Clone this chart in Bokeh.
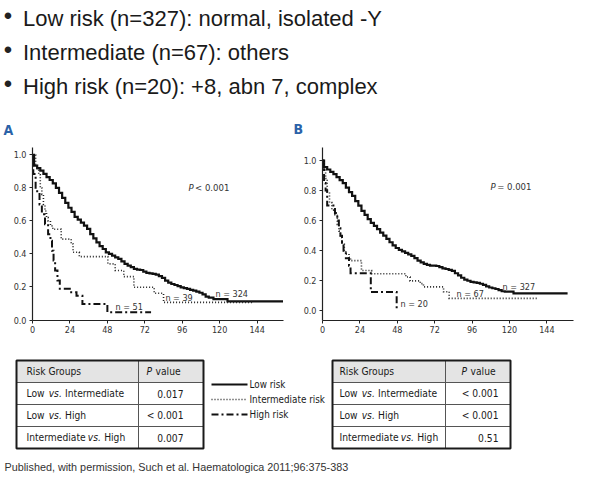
from math import pi
from bokeh.plotting import figure
from bokeh.layouts import column, row
from bokeh.models import Range1d, FixedTicker, NumeralTickFormatter, Label
from bokeh.core.properties import value
from bokeh.embed import file_html
from bokeh.resources import INLINE

# ------------------------------------------------------------------ data
bullet_lines = ["Low risk (n=327): normal, isolated -Y",
                "Intermediate (n=67): others",
                "High risk (n=20): +8, abn 7, complex"]
group_names = ["Low risk", "Intermediate risk", "High risk"]
x_ticks = [0, 24, 48, 72, 96, 120, 144]
y_ticks = [0.0, 0.2, 0.4, 0.6, 0.8, 1.0]

# Panel A (months, survival) step points
a_low_t = [0, 1, 3, 5, 7, 9, 11, 13, 15, 17, 19, 21, 23, 25, 27, 29, 31, 33, 35, 37, 39,
           41, 43, 45, 47, 49, 51, 53, 55, 57, 59, 61, 63, 65, 67, 69, 71, 73, 75, 77, 79,
           81, 83, 85, 87, 89, 91, 93, 95, 97, 99, 101, 103, 105, 107, 109, 111, 113, 116,
           125, 160.6]
a_low_s = [1.0, 0.935, 0.92, 0.905, 0.885, 0.866, 0.848, 0.828, 0.80, 0.77, 0.74, 0.71,
           0.68, 0.655, 0.625, 0.608, 0.59, 0.572, 0.552, 0.52, 0.495, 0.47, 0.448, 0.43,
           0.41, 0.40, 0.39, 0.38, 0.37, 0.355, 0.34, 0.33, 0.32, 0.31, 0.305, 0.303, 0.293,
           0.285, 0.283, 0.28, 0.275, 0.266, 0.255, 0.238, 0.226, 0.218, 0.212, 0.205, 0.198,
           0.193, 0.188, 0.183, 0.178, 0.172, 0.165, 0.155, 0.142, 0.135, 0.127, 0.113, 0.113]
a_int_t = [0, 2, 3, 4, 5, 6, 7, 8, 9, 10, 11.5, 13, 18.4, 24.8, 26, 30, 48.3, 53, 58.5, 65,
           78, 84, 142]
a_int_s = [1.0, 0.94, 0.91, 0.88, 0.80, 0.76, 0.70, 0.66, 0.62, 0.60, 0.57, 0.55, 0.49,
           0.46, 0.41, 0.384, 0.34, 0.30, 0.263, 0.198, 0.162, 0.107, 0.107]
a_high_t = [0, 0.5, 2, 3, 4.5, 6, 8, 10, 11.5, 12.5, 13.5, 14.5, 16, 17.5, 24.8, 28.2, 32,
            48, 76]
a_high_s = [1.0, 0.885, 0.79, 0.77, 0.70, 0.64, 0.58, 0.52, 0.48, 0.42, 0.36, 0.30, 0.24,
            0.19, 0.168, 0.147, 0.097, 0.047, 0.047]

# Panel B
b_low_t = [0, 1, 3, 5, 7, 9, 11, 13, 15, 17, 19, 21, 23, 25, 27, 29, 31, 33, 35, 37, 39,
           41, 43, 45, 47, 49, 51, 53, 55, 57, 59, 61, 63, 65, 67, 69, 73, 75, 77, 79, 81,
           83, 85, 87, 89, 91, 93, 95, 97, 99, 101, 103, 105, 107, 109, 111, 113, 115, 117,
           122.6, 157.3]
b_low_s = [1.0, 0.956, 0.94, 0.924, 0.91, 0.89, 0.87, 0.85, 0.82, 0.79, 0.765, 0.73, 0.70,
           0.665, 0.638, 0.61, 0.585, 0.565, 0.543, 0.52, 0.50, 0.478, 0.456, 0.435, 0.418,
           0.405, 0.395, 0.385, 0.375, 0.365, 0.35, 0.334, 0.322, 0.312, 0.305, 0.30, 0.298,
           0.29, 0.282, 0.278, 0.272, 0.265, 0.25, 0.236, 0.22, 0.207, 0.20, 0.192, 0.189,
           0.186, 0.18, 0.172, 0.163, 0.155, 0.15, 0.145, 0.138, 0.13, 0.127, 0.116, 0.116]
b_int_t = [0, 1, 2, 3, 4.5, 6, 8, 9.5, 10.5, 11.5, 12.5, 14, 15, 17, 18, 25, 31.5, 53.5,
           56.2, 62.7, 64.8, 77.7, 81.3, 138]
b_int_s = [1.0, 0.945, 0.88, 0.79, 0.72, 0.67, 0.64, 0.574, 0.53, 0.487, 0.443, 0.40, 0.378,
           0.356, 0.334, 0.268, 0.247, 0.225, 0.199, 0.181, 0.159, 0.127, 0.083, 0.083]
b_high_t = [0, 0.5, 1, 2, 3, 8, 9.5, 10.5, 11.5, 12.5, 13.5, 15, 17, 18, 31, 47.6]
b_high_s = [1.0, 0.95, 0.85, 0.80, 0.70, 0.65, 0.60, 0.55, 0.50, 0.45, 0.40, 0.35, 0.30,
            0.25, 0.125, 0.0]

a_n_labels = ["n = 324", "n = 39", "n = 51"]
b_n_labels = ["n = 327", "n = 67", "n = 20"]
a_p_rest = "< 0.001"
b_p_rest = "= 0.001"

comp_left = ["Low", "Low", "Intermediate"]
comp_right = ["Intermediate", "High", "High"]
a_pvalues = ["0.017", "< 0.001", "0.007"]
b_pvalues = ["< 0.001", "< 0.001", "0.51"]
citation = "Published, with permission, Such et al. Haematologica 2011;96:375-383"

# ------------------------------------------------------------------ style
SANS = "Liberation Sans"
NARROW = "DejaVu Sans Condensed, Liberation Sans"
BLUE = "#2a62a8"
STYLES = [dict(line_color="#111111", line_width=2.2, line_dash="solid"),
          dict(line_color="#222222", line_width=1.6, line_dash="1 2"),
          dict(line_color="#111111", line_width=2.0, line_dash="7 3 2 3")]

AW = {'L': 556, 'o': 556, 'w': 722, ' ': 278, 'v': 500, 's': 500, '.': 278, 'I': 278,
      'n': 556, 't': 278, 'e': 556, 'r': 333, 'm': 833, 'd': 556, 'i': 222, 'a': 556,
      'H': 722, 'g': 556, 'h': 556, 'P': 667}


def tw(s, size, k=1.03):
    return sum(AW.get(c, 556) for c in s) / 1000.0 * size * k


def bare(p):
    p.xgrid.visible = False
    p.ygrid.visible = False
    p.outline_line_color = None
    p.background_fill_color = "white"
    p.border_fill_color = "white"


W = 591
TOP_H = 140
KM_H = 205
# ------------------------------------------------------------------ top canvas
top = figure(width=W, height=TOP_H, x_range=Range1d(0, W), y_range=Range1d(TOP_H, 0),
             output_backend="svg", toolbar_location=None, min_border=0,
             x_axis_location=None, y_axis_location=None)
bare(top)
line_mid = [18, 52, 86]
top.text(x=[7.5] * 3, y=[m - 3 for m in line_mid], text=["\u2022"] * 3,
         text_font=value(SANS), text_font_size="24px", text_align="center",
         text_baseline="middle", text_color="#222222")
top.text(x=[22.5] * 3, y=line_mid, text=bullet_lines, text_font=value(SANS),
         text_font_size="22px", text_align="left", text_baseline="middle",
         text_color="#1a1a1a")
top.text(x=[3, 293], y=[129, 128], text=["A", "B"], text_font=value(NARROW),
         text_font_size="14px", text_font_style="bold", text_color=BLUE,
         text_align="left", text_baseline="middle")


# ------------------------------------------------------------------ KM panels
def km_panel(width, mbl, mbr, x_end, y0, y1, curves, n_labels, n_pos,
             p_rest, p_pos, months_y, surv_pos):
    p = figure(width=width, height=KM_H, x_range=Range1d(0, x_end), y_range=Range1d(y0, y1),
               output_backend="svg", toolbar_location=None,
               min_border_left=mbl, min_border_right=mbr, min_border_top=7,
               min_border_bottom=25)
    bare(p)
    for (t, s), st in zip(curves, STYLES):
        p.step(x=t, y=s, mode="after", line_join="miter", **st)
    p.xaxis.ticker = FixedTicker(ticks=x_ticks)
    p.yaxis.ticker = FixedTicker(ticks=y_ticks)
    p.yaxis.formatter = NumeralTickFormatter(format="0.0")
    for ax in (p.xaxis[0], p.yaxis[0]):
        ax.axis_line_color = "#222222"
        ax.axis_line_width = 1.2
        ax.major_tick_line_color = "#222222"
        ax.major_tick_out = 3
        ax.major_tick_in = 0
        ax.minor_tick_out = 0
        ax.minor_tick_in = 0
        ax.major_label_text_font = NARROW
        ax.major_label_text_font_size = "9px"
        ax.major_label_text_color = "#333333"
    p.xaxis.major_label_standoff = 2
    p.yaxis.major_label_standoff = 3
    p.text(x=[q[0] for q in n_pos], y=[q[1] for q in n_pos], text=n_labels,
           text_font=value(NARROW), text_font_size="9px", text_color="#333333",
           text_align="left", text_baseline="middle")
    p.text(x=[p_pos[0]], y=[p_pos[1]], text=["P"], text_font=value(NARROW),
           text_font_size="9.5px", text_font_style="italic", text_color="#333333",
           text_align="left", text_baseline="middle")
    p.text(x=[p_pos[0]], y=[p_pos[1]], text=[" " + p_rest], x_offset=tw("P", 9.5),
           text_font=value(NARROW), text_font_size="9.5px", text_color="#333333",
           text_align="left", text_baseline="middle")
    p.add_layout(Label(x=72, y=months_y, text="Months", text_font=NARROW,
                       text_font_size="7px", text_color="#333333", text_align="center",
                       text_baseline="middle"))
    p.add_layout(Label(x=surv_pos[0], y=surv_pos[1], text="Survival", angle=pi / 2,
                       text_font=NARROW, text_font_size="10px", text_color="#333333",
                       text_align="center", text_baseline="middle"))
    return p


figA = km_panel(290, 32, 7, 160.9, -0.003, 1.045,
                [(a_low_t, a_low_s), (a_int_t, a_int_s), (a_high_t, a_high_s)],
                a_n_labels, [(117.3, 0.155), (85.2, 0.136), (53.2, 0.078)],
                a_p_rest, (100, 0.803), -0.106, (-14, 0.45))
figB = km_panel(301, 32, 18, 161.1, -0.0645, 1.0865,
                [(b_low_t, b_low_s), (b_int_t, b_int_s), (b_high_t, b_high_s)],
                b_n_labels, [(115.6, 0.157), (86.0, 0.11), (50.1, 0.042)],
                b_p_rest, (107.9, 0.829), -0.178, (-14.1, 0.43))

# ------------------------------------------------------------------ bottom canvas
bot = figure(width=W, height=148, x_range=Range1d(0, W), y_range=Range1d(493, 345),
             output_backend="svg", toolbar_location=None, min_border=0,
             x_axis_location=None, y_axis_location=None)
bare(bot)

TFS = 10.2


def draw_table(p, x0, x1, xdiv, y0, row_h, pvals, pad_l, pad_r):
    nrows = len(pvals) + 1
    y1 = y0 + nrows * row_h
    p.quad(left=[x0], right=[x1], top=[y0], bottom=[y0 + row_h], fill_color="#e4e4e4",
           line_color=None)
    ys = [y0 + k * row_h for k in range(1, nrows)]
    p.segment(x0=[x0] * len(ys), x1=[x1] * len(ys), y0=ys, y1=ys, line_color="#555555",
              line_width=1)
    p.segment(x0=[xdiv], x1=[xdiv], y0=[y0], y1=[y1], line_color="#555555", line_width=1)
    p.quad(left=[x0], right=[x1], top=[y0], bottom=[y1], fill_color=None,
           line_color="#1a1a1a", line_width=2)
    cy = [y0 + (k + 0.5) * row_h for k in range(nrows)]
    common = dict(text_font=value(NARROW), text_font_size=f"{TFS}px", text_color="#1a1a1a",
                  text_baseline="middle")
    # header
    p.text(x=[x0 + pad_l], y=[cy[0]], text=["Risk Groups"], text_align="left", **common)
    xr = x1 - pad_r
    p.text(x=[xr], y=[cy[0]], text=[" value"], text_align="right", **common)
    p.text(x=[xr - tw(" value", TFS)], y=[cy[0]], text=["P"], text_align="right",
           text_font_style="italic", **common)
    # rows
    xl = x0 + pad_l
    p.text(x=[xl] * len(comp_left), y=cy[1:], text=comp_left, text_align="left", **common)
    p.text(x=[xl + tw(a + " ", TFS) for a in comp_left], y=cy[1:], text=["vs."] * len(comp_left),
           text_align="left", text_font_style="italic", **common)
    p.text(x=[xl + tw(a + " vs. ", TFS) for a in comp_left], y=cy[1:], text=comp_right,
           text_align="left", **common)
    p.text(x=[xr] * len(pvals), y=cy[1:], text=pvals, text_align="right", **common)


draw_table(bot, 16, 203, 138, 360, 22, a_pvalues, 10, 20)
draw_table(bot, 332, 510, 445, 360, 22, b_pvalues, 7, 12)

# legend
leg_y = [384, 399, 414]
for name, yy, st in zip(group_names, leg_y, STYLES):
    bot.line(x=[211, 247], y=[yy, yy], **st)
bot.text(x=[249] * 3, y=leg_y, text=group_names, text_font=value(NARROW),
         text_font_size="9.8px", text_color="#1a1a1a", text_align="left",
         text_baseline="middle")

bot.text(x=[4], y=[466], text=[citation], text_font=value(SANS), text_font_size="10.8px",
         text_color="#333333", text_align="left", text_baseline="middle")

layout = column(top, row(figA, figB), bot)
open("out.html", "w").write(file_html(layout, INLINE))
